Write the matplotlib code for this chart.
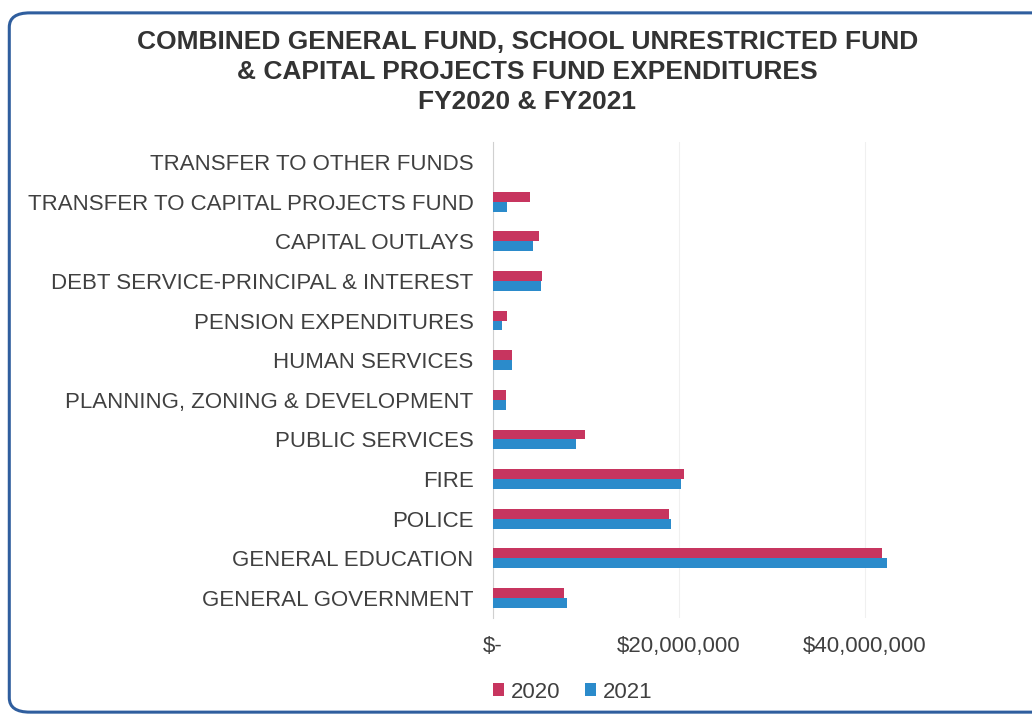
import matplotlib
matplotlib.use("Agg")
import matplotlib.pyplot as plt
import numpy as np
from matplotlib.patches import FancyBboxPatch
from matplotlib.ticker import FuncFormatter

plt.rcParams['font.family'] = ['Liberation Sans', 'DejaVu Sans']

# expenditure categories, bottom to top
categories = [
    "GENERAL GOVERNMENT",
    "GENERAL EDUCATION",
    "POLICE",
    "FIRE",
    "PUBLIC SERVICES",
    "PLANNING, ZONING & DEVELOPMENT",
    "HUMAN SERVICES",
    "PENSION EXPENDITURES",
    "DEBT SERVICE-PRINCIPAL & INTEREST",
    "CAPITAL OUTLAYS",
    "TRANSFER TO CAPITAL PROJECTS FUND",
    "TRANSFER TO OTHER FUNDS",
]
fy2020 = [7.6e6, 41.8e6, 18.9e6, 20.5e6, 9.9e6, 1.36e6, 2.08e6, 1.55e6, 5.3e6, 4.9e6, 3.95e6, 0.0]
fy2021 = [7.95e6, 42.4e6, 19.1e6, 20.2e6, 8.95e6, 1.36e6, 2.08e6, 0.93e6, 5.2e6, 4.3e6, 1.47e6, 0.0]
xticks = [0, 20e6, 40e6]

c2020 = "#C7355F"
c2021 = "#2B8BCB"
txt = "#404040"

fig = plt.figure(figsize=(10.32, 7.15), dpi=100)
ax = fig.add_axes([0.4777, 0.136, 0.4956, 0.665])

y = np.arange(len(categories))
h = 0.25
ax.barh(y + h / 2, fy2020, height=h, color=c2020, label="2020", zorder=3)
ax.barh(y - h / 2, fy2021, height=h, color=c2021, label="2021", zorder=3)

ax.set_ylim(-0.5, len(categories) - 0.5)
ax.set_xlim(0, 55e6)
ax.set_yticks(y)
ax.set_yticklabels(categories, fontsize=16, color=txt)
ax.set_xticks(xticks)
ax.xaxis.set_major_formatter(FuncFormatter(lambda v, p: "$-" if v == 0 else "${:,.0f}".format(v)))
ax.tick_params(axis='x', labelsize=16, labelcolor=txt, length=0, pad=13)
ax.tick_params(axis='y', length=0, pad=14)
ax.grid(axis='x', color="#F0F0F0", linewidth=0.8, zorder=0)
for s in ["top", "right", "bottom"]:
    ax.spines[s].set_visible(False)
ax.spines["left"].set_color("#D0D0D0")

# title block
titles = [
    "COMBINED GENERAL FUND, SCHOOL UNRESTRICTED FUND",
    "& CAPITAL PROJECTS FUND EXPENDITURES",
    "FY2020 & FY2021",
]
for t, yy in zip(titles, [0.941, 0.899, 0.857]):
    fig.text(0.511, yy, t, ha="center", va="center", fontsize=19, fontweight="bold", color="#333333")

fig.legend(loc="center", bbox_to_anchor=(0.555, 0.032), ncol=2, frameon=False,
           fontsize=16, handlelength=0.5, handleheight=0.5, handletextpad=0.3,
           columnspacing=1.1, labelcolor=txt)

# rounded frame around the chart
frame = FancyBboxPatch((0.009, 0.004), 1.02, 0.978, transform=fig.transFigure,
                       boxstyle="round,pad=0,rounding_size=0.02", fill=False,
                       edgecolor="#2F5E9E", linewidth=2.2, clip_on=False)
fig.patches.append(frame)

fig.savefig("out.png", dpi=100)
